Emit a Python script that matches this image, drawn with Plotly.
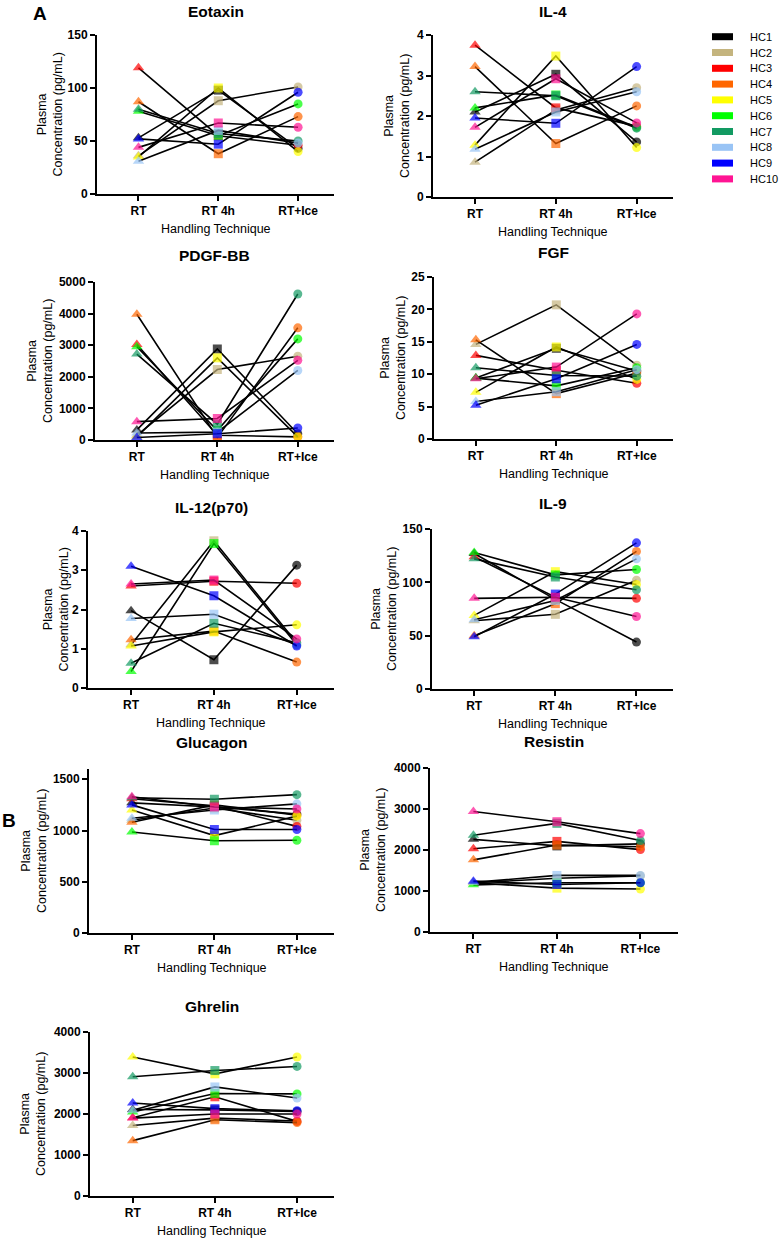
import plotly.graph_objects as go

# ---------------- data ----------------
subjects = ["HC1", "HC2", "HC3", "HC4", "HC5", "HC6", "HC7", "HC8", "HC9", "HC10"]
subject_colors = ["#000000", "#C4B47E", "#FF0000", "#FF6600", "#FFFF00",
                  "#00FF00", "#129A62", "#99C4F5", "#0000FF", "#FF1493"]
conditions = ["RT", "RT 4h", "RT+Ice"]

eotaxin_rt = [53, 36, 119, 87, 35, 78, 80, 31, 52, 44]
eotaxin_4h = [98, 88, 55, 38, 100, 55, 57, 60, 47, 67]
eotaxin_ice = [43, 101, 46, 73, 40, 85, 50, 48, 96, 63]

il4_rt = [2.1, 0.86, 3.75, 3.22, 1.28, 2.2, 2.6, 1.18, 1.95, 1.72]
il4_4h = [3.03, 2.15, 2.2, 1.32, 3.48, 2.52, 2.5, 2.1, 1.82, 2.92]
il4_ice = [1.36, 2.7, 1.75, 2.25, 1.22, 1.72, 1.7, 2.6, 3.22, 1.83]

pdgf_rt = [320, 150, 3020, 3980, 100, 2950, 2720, 220, 80, 580]
pdgf_4h = [2880, 2230, 150, 80, 2600, 300, 500, 250, 200, 680]
pdgf_ice = [200, 2650, 100, 3550, 100, 3200, 4620, 2200, 380, 2520]

fgf_rt = [9.4, 14.6, 12.9, 15.3, 7.2, 9.4, 11.0, 5.8, 5.2, 9.3]
fgf_4h = [14.0, 20.7, 10.6, 7.0, 14.2, 8.2, 9.8, 7.3, 9.3, 11.1]
fgf_ice = [10.5, 11.4, 8.6, 10.2, 9.2, 11.0, 9.7, 10.7, 14.6, 19.3]

il12_rt = [1.97, 1.1, 2.6, 1.23, 1.07, 0.42, 0.63, 1.77, 3.1, 2.65]
il12_4h = [0.72, 3.75, 2.72, 1.45, 1.43, 3.68, 1.65, 1.88, 2.35, 2.75]
il12_ice = [3.13, 1.15, 2.67, 0.66, 1.61, 1.1, 1.15, 1.1, 1.07, 1.25]

il9_rt = [127, 64, 124, 50, 69, 128, 122, 65, 49, 85]
il9_4h = [84, 70, 86, 80, 110, 107, 105, 83, 89, 86]
il9_ice = [44, 102, 85, 129, 98, 112, 93, 122, 137, 68]

glucagon_rt = [1270, 1100, 1310, 1080, 1200, 985, 1320, 1120, 1250, 1330]
glucagon_4h = [1230, 1220, 1240, 1250, 950, 900, 1305, 1200, 1010, 1230]
glucagon_ice = [1160, 1100, 1040, 1150, 1140, 905, 1350, 1260, 1010, 1210]

resistin_rt = [2260, 1200, 2030, 1760, 1200, 1150, 2360, 1210, 1240, 2940]
resistin_4h = [2100, 1310, 2210, 2120, 1070, 1200, 2650, 1380, 1160, 2690]
resistin_ice = [2150, 1370, 2010, 2080, 1050, 1200, 2230, 1380, 1200, 2400]

ghrelin_rt = [2110, 1720, 1910, 1350, 3390, 2050, 2910, 2090, 2270, 1900]
ghrelin_4h = [2100, 1900, 2420, 1860, 2980, 2500, 3060, 2660, 2130, 2000]
ghrelin_ice = [2060, 1830, 1820, 1790, 3390, 2490, 3160, 2390, 2080, 2000]

panel_titles = ["Eotaxin", "IL-4", "PDGF-BB", "FGF", "IL-12(p70)", "IL-9",
                "Glucagon", "Resistin", "Ghrelin"]
y_ticks_eotaxin = [0, 50, 100, 150]
y_ticks_il4 = [0, 1, 2, 3, 4]
y_ticks_pdgf = [0, 1000, 2000, 3000, 4000, 5000]
y_ticks_fgf = [0, 5, 10, 15, 20, 25]
y_ticks_il12 = [0, 1, 2, 3, 4]
y_ticks_il9 = [0, 50, 100, 150]
y_ticks_glucagon = [0, 500, 1000, 1500]
y_ticks_resistin = [0, 1000, 2000, 3000, 4000]
y_ticks_ghrelin = [0, 1000, 2000, 3000, 4000]
x_title = "Handling Technique"
y_title = "Plasma<br>Concentration (pg/mL)"

# ---------------- layout helpers ----------------
W, H = 779, 1240
FONT = "Liberation Sans"


def px(x):
    return x / W


def py(y):
    return 1 - y / H


panels = [
    dict(data=(eotaxin_rt, eotaxin_4h, eotaxin_ice), ticks=y_ticks_eotaxin, ymax=150,
         box=(97, 334, 35, 194), ytx=50, tty=11),
    dict(data=(il4_rt, il4_4h, il4_ice), ticks=y_ticks_il4, ymax=4,
         box=(433, 673, 35, 197), ytx=397, tty=11),
    dict(data=(pdgf_rt, pdgf_4h, pdgf_ice), ticks=y_ticks_pdgf, ymax=5000,
         box=(95, 334, 282, 440), ytx=40, tty=256),
    dict(data=(fgf_rt, fgf_4h, fgf_ice), ticks=y_ticks_fgf, ymax=25,
         box=(434, 673, 277, 439), ytx=393, tty=252),
    dict(data=(il12_rt, il12_4h, il12_ice), ticks=y_ticks_il12, ymax=4,
         box=(88, 334, 531, 688), ytx=56, tty=507),
    dict(data=(il9_rt, il9_4h, il9_ice), ticks=y_ticks_il9, ymax=150,
         box=(432, 673, 529, 689), ytx=384, tty=503),
    dict(data=(glucagon_rt, glucagon_4h, glucagon_ice), ticks=y_ticks_glucagon, ymax=1600,
         box=(89, 334, 769, 933), ytx=34, tty=742),
    dict(data=(resistin_rt, resistin_4h, resistin_ice), ticks=y_ticks_resistin, ymax=4000,
         box=(430, 678, 768, 932), ytx=373, tty=741),
    dict(data=(ghrelin_rt, ghrelin_4h, ghrelin_ice), ticks=y_ticks_ghrelin, ymax=4000,
         box=(90, 334, 1032, 1196), ytx=33, tty=1006),
]

symbols = ["triangle-up", "square", "circle"]
sizes = [10, 9, 9]

fig = go.Figure()
annotations = []
shapes = []

for i, p in enumerate(panels):
    n = i + 1
    xa = "x" if n == 1 else f"x{n}"
    ya = "y" if n == 1 else f"y{n}"
    rt, h4, ice = p["data"]
    for j, subj in enumerate(subjects):
        fig.add_trace(go.Scatter(
            x=conditions, y=[rt[j], h4[j], ice[j]],
            xaxis=xa, yaxis=ya, mode="lines+markers", name=subj,
            showlegend=False, cliponaxis=False,
            line=dict(color="black", width=1.6),
            marker=dict(color=subject_colors[j], symbol=symbols, size=sizes,
                        line=dict(width=0)),
        ))
    x0, x1, yt, yb = p["box"]
    axis_common = dict(showline=True, linecolor="black", linewidth=2,
                       ticks="outside", ticklen=5, tickwidth=2, tickcolor="black",
                       showgrid=False, zeroline=False, automargin=False,
                       tickfont=dict(family=FONT, size=12, color="black", weight="bold"))
    fig.layout[f"xaxis{'' if n == 1 else n}"] = dict(
        domain=[px(x0), px(x1)], anchor=ya, type="category",
        categoryorder="array", categoryarray=conditions,
        range=[-0.52, 2.45], **axis_common)
    fig.layout[f"yaxis{'' if n == 1 else n}"] = dict(
        domain=[py(yb), py(yt)], anchor=xa, range=[0, p["ymax"]],
        tickmode="array", tickvals=p["ticks"], ticktext=[str(t) for t in p["ticks"]],
        **axis_common)
    annotations.append(dict(text=panel_titles[i], x=px((x0 + x1) / 2), y=py(p["tty"]),
                            xref="paper", yref="paper", showarrow=False,
                            xanchor="center", yanchor="middle",
                            font=dict(family=FONT, size=15.5, color="black", weight="bold")))
    annotations.append(dict(text=x_title, x=px((x0 + x1) / 2), y=py(yb + 35),
                            xref="paper", yref="paper", showarrow=False,
                            xanchor="center", yanchor="middle",
                            font=dict(family=FONT, size=12.5, color="black")))
    annotations.append(dict(text=y_title, x=px(p["ytx"]), y=py((yt + yb) / 2),
                            xref="paper", yref="paper", showarrow=False,
                            textangle=-90, xanchor="center", yanchor="middle",
                            font=dict(family=FONT, size=12.5, color="black")))

annotations.append(dict(text="A", x=px(40), y=py(14), xref="paper", yref="paper",
                        showarrow=False, xanchor="center", yanchor="middle",
                        font=dict(family=FONT, size=19, color="black", weight="bold")))
annotations.append(dict(text="B", x=px(9), y=py(820), xref="paper", yref="paper",
                        showarrow=False, xanchor="center", yanchor="middle",
                        font=dict(family=FONT, size=19, color="black", weight="bold")))

for j, subj in enumerate(subjects):
    cy = 36.7 + j * 15.8
    shapes.append(dict(type="rect", xref="paper", yref="paper",
                       x0=px(712), x1=px(733), y0=py(cy + 3.5), y1=py(cy - 3.5),
                       fillcolor=subject_colors[j], line=dict(width=0)))
    annotations.append(dict(text=subj, x=px(748), y=py(cy), xref="paper", yref="paper",
                            showarrow=False, xanchor="left", yanchor="middle",
                            font=dict(family=FONT, size=11, color="black")))

fig.update_layout(width=W, height=H, autosize=False,
                  margin=dict(l=0, r=0, t=0, b=0, pad=0),
                  paper_bgcolor="white", plot_bgcolor="white",
                  showlegend=False, annotations=annotations, shapes=shapes,
                  font=dict(family=FONT, color="black"))

fig.write_html(
    "out.html",
    config={"displayModeBar": False},
    post_script=("document.body.style.margin='0';"
                 "document.body.style.overflow='hidden';"
                 "document.documentElement.style.overflow='hidden';"),
)
